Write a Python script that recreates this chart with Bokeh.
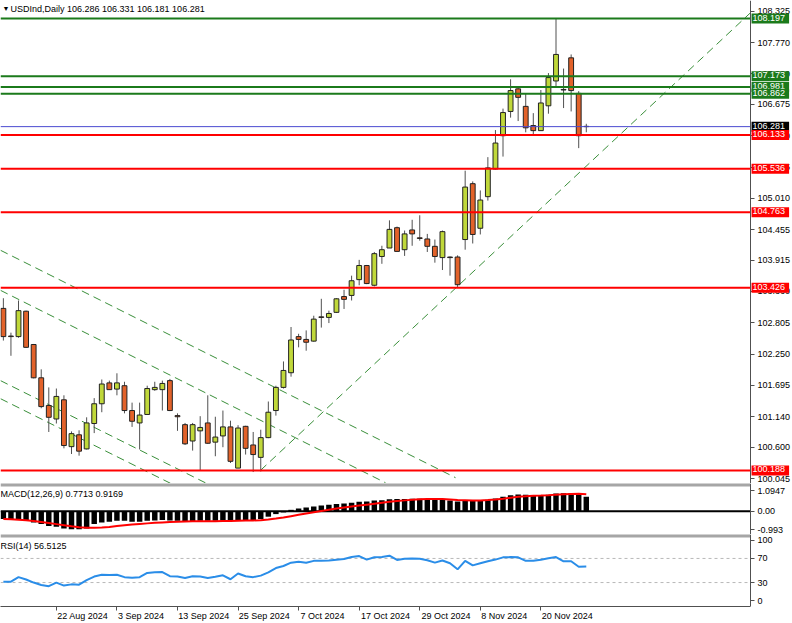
import numpy as np
import pandas as pd
from bokeh.plotting import figure
from bokeh.layouts import column
from bokeh.models import (ColumnDataSource, Range1d, FixedTicker, LinearAxis,
                          PrintfTickFormatter, Label)
from bokeh.embed import file_html
from bokeh.resources import INLINE

# ---------------- data ----------------
dates = pd.bdate_range("2024-08-13", "2024-11-28")
date_labels = [f"{d.day} {d.strftime('%b %Y')}" for d in dates]

opens = [103.06, 102.57, 102.56, 103.01, 102.42, 101.83, 101.34, 101.10, 101.44, 100.61,
         100.82, 100.57, 101.02, 101.37, 101.74, 101.63, 101.69, 101.25, 101.03, 101.18,
         101.62, 101.62, 101.78, 101.16, 101.00, 100.71, 100.89, 101.03, 100.69, 100.80,
         100.96, 100.23, 100.97, 100.64, 100.42, 100.77, 101.25, 101.66, 101.92, 102.56,
         102.51, 102.48, 102.91, 102.90, 102.99, 103.27, 103.29, 103.57, 103.82, 103.47,
         103.98, 104.13, 104.49, 104.10, 104.45, 104.31, 104.29, 104.16, 103.96, 103.97,
         103.97, 104.28, 105.27, 104.48, 105.04, 105.53, 106.12, 106.55, 106.95, 106.64,
         106.30, 106.21, 106.65, 107.09, 106.94, 107.50, 106.87, 106.286]
highs = [103.24, 102.63, 103.20, 103.02, 102.43, 101.98, 101.66, 101.64, 101.52, 100.88,
         100.90, 101.13, 101.47, 101.80, 101.78, 101.91, 101.76, 101.39, 101.39, 101.69,
         101.76, 101.78, 101.81, 101.20, 101.03, 101.03, 101.15, 101.52, 101.14, 101.25,
         101.07, 100.99, 100.98, 100.87, 100.91, 101.41, 101.69, 102.12, 102.73, 102.61,
         102.67, 102.93, 103.23, 103.02, 103.24, 103.39, 103.64, 103.92, 103.83, 104.06,
         104.17, 104.62, 104.51, 104.44, 104.63, 104.71, 104.38, 104.28, 104.44, 103.98,
         104.00, 105.50, 105.31, 105.15, 105.74, 106.22, 106.60, 107.12, 106.99, 106.86,
         106.52, 106.93, 107.23, 108.19, 107.31, 107.56, 106.91, 106.331]
lows = [102.49, 102.22, 102.54, 102.36, 101.82, 101.29, 100.87, 101.02, 100.58, 100.48,
        100.45, 100.56, 100.85, 101.22, 101.62, 101.52, 101.20, 100.96, 100.56, 101.18,
        101.60, 101.25, 101.24, 100.89, 100.64, 100.54, 100.19, 100.66, 100.44, 100.60,
        100.32, 100.23, 100.47, 100.16, 100.17, 100.76, 101.16, 101.64, 101.85, 102.37,
        102.31, 102.47, 102.72, 102.80, 102.98, 103.05, 103.20, 103.47, 103.49, 103.45,
        103.85, 104.13, 104.07, 103.99, 104.17, 104.26, 104.06, 103.87, 103.74, 103.64,
        103.43, 104.10, 104.21, 104.37, 104.97, 105.52, 105.75, 106.44, 106.38, 106.18,
        106.14, 106.21, 106.51, 106.99, 106.61, 106.55, 105.90, 106.181]
closes = [102.56, 102.56, 103.02, 102.37, 101.83, 101.32, 101.13, 101.50, 100.63, 100.84,
          100.53, 101.03, 101.37, 101.72, 101.62, 101.74, 101.25, 101.06, 101.17, 101.64,
          101.66, 101.73, 101.25, 101.14, 100.66, 101.00, 100.95, 100.67, 100.78, 100.96,
          100.35, 100.94, 100.58, 100.47, 100.77, 101.22, 101.66, 101.96, 102.50, 102.51,
          102.46, 102.87, 102.90, 102.97, 103.23, 103.22, 103.55, 103.82, 103.50, 104.03,
          104.10, 104.46, 104.07, 104.38, 104.38, 104.30, 104.16, 103.98, 104.42, 103.96,
          103.48, 105.21, 104.37, 104.98, 105.55, 105.99, 106.53, 106.92, 106.80, 106.26,
          106.21, 106.70, 107.15, 107.56, 106.93, 106.92, 106.12, 106.281]

macd_main = [-0.43, -0.48, -0.48, -0.52, -0.61, -0.70, -0.80, -0.84, -0.93, -0.98,
             -0.98, -0.93, -0.70, -0.61, -0.57, -0.52, -0.52, -0.57, -0.57, -0.52,
             -0.50, -0.48, -0.50, -0.52, -0.57, -0.55, -0.52, -0.52, -0.52, -0.50,
             -0.52, -0.48, -0.48, -0.48, -0.43, -0.30, -0.16, -0.07, 0.07, 0.14,
             0.20, 0.25, 0.30, 0.34, 0.39, 0.41, 0.45, 0.50, 0.52, 0.57,
             0.59, 0.64, 0.66, 0.66, 0.67, 0.67, 0.66, 0.64, 0.61, 0.57,
             0.52, 0.57, 0.57, 0.57, 0.61, 0.68, 0.77, 0.86, 0.90, 0.89,
             0.86, 0.85, 0.89, 0.95, 0.96, 0.96, 0.95, 0.7713]
macd_signal = [-0.42, -0.44, -0.46, -0.49, -0.53, -0.58, -0.64, -0.70, -0.76, -0.82,
               -0.87, -0.90, -0.90, -0.88, -0.85, -0.80, -0.76, -0.72, -0.69, -0.66,
               -0.63, -0.61, -0.59, -0.57, -0.56, -0.55, -0.55, -0.54, -0.54, -0.53,
               -0.53, -0.52, -0.51, -0.50, -0.49, -0.45, -0.40, -0.34, -0.27, -0.20,
               -0.13, -0.06, 0.01, 0.08, 0.14, 0.20, 0.25, 0.30, 0.35, 0.40,
               0.45, 0.50, 0.54, 0.58, 0.62, 0.64, 0.66, 0.66, 0.65, 0.63,
               0.60, 0.59, 0.58, 0.58, 0.60, 0.63, 0.67, 0.72, 0.77, 0.80,
               0.83, 0.84, 0.86, 0.89, 0.91, 0.93, 0.94, 0.9169]
rsi = [31.4, 31.5, 39.0, 35.0, 30.0, 26.0, 24.0, 30.0, 25.0, 27.0,
       26.5, 34.0, 40.0, 43.0, 42.5, 43.0, 39.0, 38.0, 39.0, 46.0,
       47.0, 47.5, 40.5, 40.0, 37.5, 40.5, 40.0, 37.5, 39.5, 42.0,
       35.5, 45.0, 40.5, 39.0, 41.5, 47.0, 54.0, 57.5, 63.0, 64.5,
       63.0, 66.0, 66.0, 66.5, 68.0, 69.0, 72.5, 74.0, 68.0, 72.0,
       72.5, 74.5, 67.5, 69.5, 70.0, 69.5, 67.0, 63.0, 66.5, 62.0,
       52.0, 66.0, 58.5, 62.0, 65.3, 68.1, 71.8, 72.2, 71.8, 66.0,
       66.0, 68.0, 70.4, 72.2, 65.3, 65.3, 56.2, 56.5125]

green_levels = [108.197, 107.173, 106.981, 106.862]
red_levels = [106.133, 105.536, 104.763, 103.426, 100.188]
last_price = 106.281
header_ohlc = [106.286, 106.331, 106.181, 106.281]
macd_header = [0.7713, 0.9169]
rsi_header = 56.5125

price_ticks = [100.045, 100.600, 101.140, 101.695, 102.250, 102.805, 103.360, 103.915,
               104.455, 105.010, 105.565, 106.120, 106.675, 107.220, 107.770, 108.325]
macd_ticks = [-0.993, 0.0, 1.0947]
macd_tick_labels = ["-0.993", "0.00", "1.0947"]
rsi_ticks = [0, 30, 70, 100]
rsi_levels = [30, 70]

# trend lines: (bar index, price) end points
uptrend_x = [33.97, 98.70]
uptrend_y = [100.19, 108.30]
channel_x = [[-0.38, 59.73], [-0.38, 50.48], [-0.38, 26.83], [-0.38, 22.08]]
channel_y = [[104.09, 100.06], [103.38, 99.97], [101.78, 99.96], [101.46, 99.96]]

# ---------------- styling / layout ----------------
FONT = "Liberation Sans"
BULL = "#c0d83a"
BEAR = "#e2622a"
GREEN_LINE = "#1b7a1b"
RED_LINE = "#ff0000"
TREND = "#3a8f3a"
AX = "#505050"
SEP = "#a6a6a6"

n = len(dates)
xs = np.arange(n)
o = np.array(opens); c = np.array(closes)
src = ColumnDataSource(dict(
    x=xs, o=o, h=highs, l=lows, c=c,
    top=np.maximum(o, c), bottom=np.minimum(o, c),
    color=[BULL if cc >= oo else BEAR for oo, cc in zip(o, c)],
    macd=macd_main, sig=macd_signal, rsi=rsi))

W = 792
xr = Range1d(-0.379, 104.24)   # chart area + price-scale strip
AXIS_X = 98.70                 # where the price scale starts


def base_fig(height, yr, ticks):
    f = figure(width=W, height=height, x_range=xr, y_range=yr,
               output_backend="svg", toolbar_location=None,
               x_axis_location=None, y_axis_location=None,
               min_border_left=0, min_border_right=0,
               min_border_top=0, min_border_bottom=0)
    f.xgrid.visible = False
    f.ygrid.visible = False
    f.outline_line_color = None
    ya = LinearAxis(fixed_location=AXIS_X, ticker=FixedTicker(ticks=ticks))
    ya.major_tick_in = 0
    ya.major_tick_out = 4
    ya.minor_tick_in = 0
    ya.minor_tick_out = 0
    ya.axis_line_color = AX
    ya.major_tick_line_color = AX
    ya.major_label_text_font = FONT
    ya.major_label_text_font_size = "9px"
    ya.major_label_text_color = "#000000"
    ya.major_label_standoff = 3
    f.add_layout(ya, "right")
    return f, ya


def hline(fig, y, color, width, dash="solid"):
    fig.segment(x0=[xr.start], y0=[y], x1=[AXIS_X], y1=[y],
                line_color=color, line_width=width, line_dash=dash)


def level_label(fig, v, bg):
    fig.add_layout(Label(x=AXIS_X, y=v, x_units="data", y_units="data",
                         text=f"{v:.3f}", text_color="white",
                         text_font=FONT, text_font_size="9px",
                         text_align="left", text_baseline="middle",
                         x_offset=1, background_fill_color=bg,
                         padding=(1, 4, 1, 3)))


def header(fig, text, yoff):
    fig.add_layout(Label(x=xr.start, y=fig.y_range.end, x_units="data", y_units="data",
                         text=text, text_font=FONT, text_font_size="9px",
                         text_color="#000000", text_baseline="top",
                         x_offset=0, y_offset=yoff))


# ---------------- main price panel ----------------
p, pya = base_fig(483, Range1d(99.957, 108.516), price_ticks)
pya.formatter = PrintfTickFormatter(format="%.3f")

for tx, ty in zip(channel_x, channel_y):
    p.line(tx, ty, line_color=TREND, line_width=1, line_dash="8 5")
p.line(uptrend_x, uptrend_y, line_color=TREND, line_width=1, line_dash="8 5")

p.segment(x0="x", y0="h", x1="x", y1="l", source=src, line_color="#505050", line_width=1)
p.vbar(x="x", top="top", bottom="bottom", width=0.64, source=src,
       fill_color="color", line_color="#222222", line_width=1)

hline(p, last_price, "#4b4bd0", 1)
for v in green_levels:
    hline(p, v, GREEN_LINE, 2)
for v in red_levels:
    hline(p, v, RED_LINE, 2)

level_label(p, last_price, "#000000")
for v in red_levels:
    level_label(p, v, RED_LINE)
for v in green_levels:
    level_label(p, v, GREEN_LINE)

p.add_layout(Label(x=xr.start, y=p.y_range.end, x_units="data", y_units="data",
                   text="▼", text_font=FONT, text_font_size="7px", text_color="#000000",
                   text_baseline="top", x_offset=2, y_offset=-4))
p.add_layout(Label(x=xr.start, y=p.y_range.end, x_units="data", y_units="data",
                   text="USDInd,Daily  " + " ".join(f"{v:.3f}" for v in header_ohlc),
                   text_font=FONT, text_font_size="9px", text_color="#000000",
                   text_baseline="top", x_offset=10, y_offset=-3))

# ---------------- MACD panel ----------------
m, mya = base_fig(51, Range1d(-1.26, 1.49), macd_ticks)
mya.major_label_overrides = {t: s for t, s in zip(macd_ticks, macd_tick_labels)}
hline(m, 0.0, "black", 2)
m.vbar(x="x", top="macd", bottom=0, width=0.72, source=src, fill_color="black", line_color=None)
m.line(x="x", y="sig", source=src, line_color="#ff0000", line_width=2)
hline(m, m.y_range.end, SEP, 6)
header(m, f"MACD(12,26,9) {macd_header[0]:.4f} {macd_header[1]:.4f}", -5)

# ---------------- RSI panel ----------------
r, rya = base_fig(89, Range1d(-9.7, 109.7), rsi_ticks)
for lv in rsi_levels:
    hline(r, lv, "#b8b8b8", 1, "3 3")
r.line(x="x", y="rsi", source=src, line_color="#2a8de8", line_width=2)
hline(r, r.y_range.end, SEP, 6)
header(r, f"RSI(14) {rsi_header:.4f}", -6)

# date axis: tick marks at the bars, labels starting at the tick (MT4 style)
tick_pos = list(range(7, n, 8))
xa = LinearAxis(ticker=FixedTicker(ticks=tick_pos), bounds=(xr.start, AXIS_X))
xa.major_label_overrides = {t: "" for t in tick_pos}
xa.major_label_text_font_size = "0px"
xa.major_label_standoff = 0
xa.major_tick_in = 0
xa.major_tick_out = 4
xa.minor_tick_in = 0
xa.minor_tick_out = 0
xa.axis_line_color = AX
xa.major_tick_line_color = AX
r.add_layout(xa, "below")

BAR_PX = 7.57
label_pos = [t + (1 + 0.5 * 4.6 * len(date_labels[t])) / BAR_PX for t in tick_pos]
xl = LinearAxis(ticker=FixedTicker(ticks=label_pos))
xl.major_label_overrides = {lp: date_labels[t] for lp, t in zip(label_pos, tick_pos)}
xl.major_label_text_font = FONT
xl.major_label_text_font_size = "9px"
xl.major_label_text_color = "#000000"
xl.major_label_standoff = 0
xl.major_tick_in = 0
xl.major_tick_out = 0
xl.minor_tick_in = 0
xl.minor_tick_out = 0
xl.axis_line_color = None
r.add_layout(xl, "below")

layout = column(p, m, r, spacing=0)
open("out.html", "w").write(file_html(layout, INLINE))
